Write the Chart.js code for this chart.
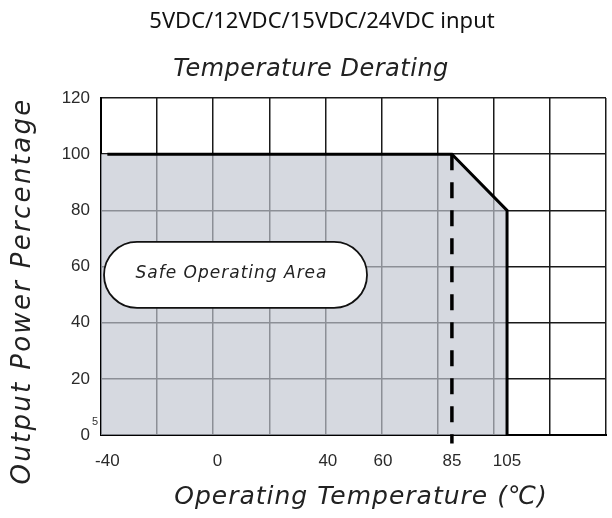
<!DOCTYPE html>
<html><head><meta charset="utf-8">
<script src="https://cdn.jsdelivr.net/npm/chart.js@4"></script>
<style>html,body{margin:0;padding:0;background:#fff}</style>
</head><body>
<canvas id="c" width="612" height="518"></canvas>
<script>
// ---- data ----
const topTitle = '5VDC/12VDC/15VDC/24VDC input';
const chartTitle = 'Temperature Derating';
const xTitle = 'Operating Temperature (\u2103)';
const yTitle = 'Output Power Percentage';
const areaLabel = 'Safe Operating Area';
const stray = '5';
const xTickValues = [-40, 0, 40, 60, 85, 105];
const yStep = 20;
const xRange = [-42.3, 140.9];
const yRange = [0, 120];
const gridColumns = 9;
const deratingTemps = [-40, 85, 105, 105];
const deratingPower = [100, 100, 80, 0];
const areaTemps = [-42.3, 85, 105, 105];
const areaPower = [100, 100, 80, 0];
const markerTemps = [85, 85];
const markerPower = [100, -3];
const labelAnchor = [6.5, 57];

const zip = (xs, ys) => xs.map((v, i) => ({x: v, y: ys[i]}));
const hand = (size) => 'italic ' + size + 'px "DejaVu Sans"';
const spacing = (ctx, px) => { if ('letterSpacing' in ctx) ctx.letterSpacing = px + 'px'; };

const textPlugin = {
  id: 'texts',
  afterDatasetsDraw(chart) {
    const {ctx, scales} = chart;
    const cx = scales.x.getPixelForValue(labelAnchor[0]);
    const cy = scales.y.getPixelForValue(labelAnchor[1]);
    const w = 263, h = 66;
    ctx.save();
    ctx.beginPath();
    ctx.roundRect(cx - w / 2, cy - h / 2, w, h, h / 2);
    ctx.fillStyle = '#fff';
    ctx.fill();
    ctx.lineWidth = 1.8;
    ctx.strokeStyle = '#111';
    ctx.stroke();
    ctx.fillStyle = '#222';
    ctx.font = hand(17);
    spacing(ctx, 1);
    ctx.textAlign = 'center';
    ctx.textBaseline = 'middle';
    ctx.fillText(areaLabel, cx - 4, cy - 1);
    ctx.restore();
  },
  afterDraw(chart) {
    const {ctx} = chart;
    ctx.save();
    ctx.textAlign = 'center';
    ctx.textBaseline = 'middle';
    ctx.fillStyle = '#111';
    ctx.font = '22px "Noto Sans"';
    ctx.fillText(topTitle, 322, 22);
    ctx.fillStyle = '#222';
    ctx.font = hand(24);
    spacing(ctx, 0.5);
    ctx.fillText(chartTitle, 311, 70);
    spacing(ctx, 1);
    ctx.font = hand(25);
    ctx.fillText(xTitle, 361, 497);
    ctx.save();
    ctx.translate(23, 291);
    ctx.rotate(-Math.PI / 2);
    ctx.font = hand(26);
    spacing(ctx, 2.3);
    ctx.fillText(yTitle, 0, 0);
    ctx.restore();
    spacing(ctx, 0);
    ctx.font = '11px "Liberation Sans"';
    ctx.fillStyle = '#333';
    ctx.fillText(stray, 95, 422);
    ctx.restore();
  }
};

new Chart(document.getElementById('c'), {
  type: 'line',
  data: {
    datasets: [
      {
        data: zip(areaTemps, areaPower),
        order: 3,
        fill: 'origin',
        backgroundColor: 'rgba(194,199,209,0.68)',
        borderWidth: 0,
        pointRadius: 0,
        tension: 0
      },
      {
        data: zip(deratingTemps, deratingPower),
        order: 1,
        fill: false,
        borderColor: '#000',
        borderWidth: 3,
        pointRadius: 0,
        tension: 0
      },
      {
        data: zip(markerTemps, markerPower),
        order: 2,
        fill: false,
        borderColor: '#000',
        borderWidth: 3.5,
        borderDash: [16, 12],
        pointRadius: 0,
        clip: false
      }
    ]
  },
  options: {
    responsive: false,
    animation: false,
    devicePixelRatio: 1,
    layout: {padding: {top: 98, right: 6, left: 0, bottom: 0}},
    plugins: {legend: {display: false}, tooltip: {enabled: false}, title: {display: false}},
    scales: {
      xg: {
        type: 'linear', position: 'top', min: xRange[0], max: xRange[1],
        afterBuildTicks: (s) => {
          s.ticks = Array.from({length: gridColumns + 1}, (_, i) => ({value: s.min + i * (s.max - s.min) / gridColumns}));
        },
        afterFit: (s) => { s.height = 0; },
        ticks: {display: false},
        grid: {color: '#1a1a1a', lineWidth: 1.5, drawTicks: false},
        border: {display: false}
      },
      yg: {
        type: 'linear', position: 'right', min: yRange[0], max: yRange[1],
        afterFit: (s) => { s.width = 0; },
        ticks: {display: false, stepSize: yStep},
        grid: {color: '#1a1a1a', lineWidth: 1.5, drawTicks: false},
        border: {display: false}
      },
      x: {
        type: 'linear', position: 'bottom', min: xRange[0], max: xRange[1], z: 1,
        afterBuildTicks: (s) => { s.ticks = xTickValues.map(v => ({value: v})); },
        afterFit: (s) => { s.height = 83; },
        ticks: {autoSkip: false, maxRotation: 0, padding: 16, color: '#2a2a2a', font: {family: '"Liberation Sans"', size: 17}},
        grid: {display: false, drawTicks: false},
        border: {display: true, color: '#000', width: 2}
      },
      y: {
        type: 'linear', position: 'left', min: yRange[0], max: yRange[1], z: 1,
        afterFit: (s) => { s.width = 101; },
        ticks: {stepSize: yStep, padding: 11, color: '#2a2a2a', font: {family: '"Liberation Sans"', size: 17}},
        grid: {display: false, drawTicks: false},
        border: {display: true, color: '#000', width: 2}
      }
    }
  },
  plugins: [textPlugin]
});
</script>
</body></html>
